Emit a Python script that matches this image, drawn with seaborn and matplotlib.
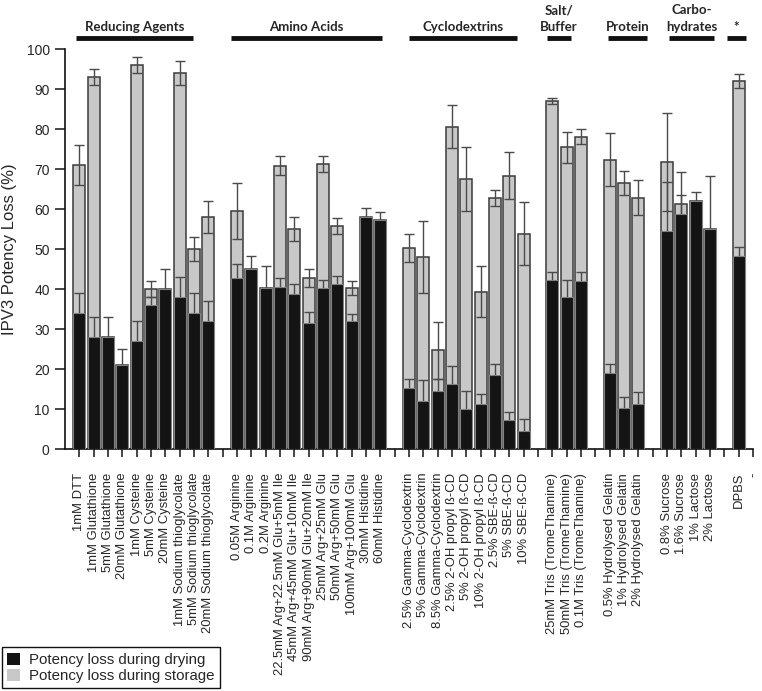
import numpy as np
import pandas as pd
import matplotlib
matplotlib.use('Agg')
import matplotlib.pyplot as plt
import seaborn as sns
from matplotlib.patches import Patch

sns.set_style('ticks')
plt.rcParams['font.family'] = ['Liberation Sans', 'DejaVu Sans']

# groups of formulations, in plotting order
group_names = ['Reducing Agents', 'Amino Acids', 'Cyclodextrins', 'Salt/\nBuffer',
               'Protein', 'Carbo-\nhydrates', '*']
group_sizes = [10, 11, 9, 3, 3, 4, 1]

labels = [
    '1mM DTT', '1mM Glutathione', '5mM Glutathione', '20mM Glutathione',
    '1mM Cysteine', '5mM Cysteine', '20mM Cysteine', '1mM Sodium thioglycolate',
    '5mM Sodium thioglycolate', '20mM Sodium thioglycolate',
    '0.05M Arginine', '0.1M Arginine', '0.2M Arginine',
    '22.5mM Arg+22.5mM Glu+5mM Ile', '45mM Arg+45mM Glu+10mM Ile',
    '90mM Arg+90mM Glu+20mM Ile', '25mM Arg+25mM Glu', '50mM Arg+50mM Glu',
    '100mM Arg+100mM Glu', '30mM Histidine', '60mM Histidine',
    '2.5% Gamma-Cyclodextrin', '5% Gamma-Cyclodextrin', '8.5% Gamma-Cyclodextrin',
    '2.5% 2-OH propyl ß-CD', '5% 2-OH propyl ß-CD', '10% 2-OH propyl ß-CD',
    '2.5% SBE-ß-CD', '5% SBE-ß-CD', '10% SBE-ß-CD',
    '25mM Tris (TromeThamine)', '50mM Tris (TromeThamine)', '0.1M Tris (TromeThamine)',
    '0.5% Hydrolysed Gelatin', '1% Hydrolysed Gelatin', '2% Hydrolysed Gelatin',
    '0.8% Sucrose', '1.6% Sucrose', '1% Lactose', '2% Lactose',
    'DPBS',
]

# potency loss during drying (%)
drying = [34, 28, 28, 21, 27, 36, 40, 38, 34, 32,
          42.7, 45, 40.4, 40.6, 38.8, 31.6, 40.3, 41.2, 32, 58.1, 57.2,
          15.2, 12, 14.6, 16.4, 10, 11.2, 18.5, 7.4, 4.5,
          42.2, 38, 42,
          19.1, 10.2, 11.2,
          54.6, 58.8, 62, 55.1,
          48.2]
drying_err = [5, 5, 5, 4, 5, 2, 5, 5, 5, 5,
              3.5, 3.4, 5.3, 2.1, 2.5, 2.7, 1.9, 2.2, 1.9, 2.2, 2,
              2.3, 5.2, 2.9, 4.5, 4.6, 2.7, 2.7, 1.9, 3,
              2, 4.2, 2.3,
              2.2, 2.9, 3.1,
              12.2, 4.6, 2.2, 13.1,
              2.4]

# additional potency loss during storage (%)
storage = [37, 65, 0, 0, 69, 4, 0, 56, 16, 26,
           16.8, 0, 0, 30.2, 16.2, 11.2, 30.9, 14.5, 8.3, 0, 0,
           35.1, 36, 10.1, 64.2, 57.6, 28.2, 44.2, 60.9, 49.4,
           44.8, 37.4, 36.1,
           53.2, 56.4, 51.6,
           17.2, 2.4, 0, 0,
           43.8]
storage_err = [5, 2, 0, 0, 2, 2, 0, 3, 3, 4,
               7, 0, 0, 2.4, 2.9, 2.3, 2, 2, 1.8, 0, 0,
               3.6, 9, 7.1, 5.3, 8, 6.4, 2, 5.9, 7.9,
               0.8, 3.9, 1.8,
               6.6, 3.0, 4.4,
               12.3, 8, 0, 0,
               1.8]

df = pd.DataFrame({'label': labels, 'drying': drying, 'drying_err': drying_err,
                   'storage': storage, 'storage_err': storage_err})
df['total'] = df['drying'] + df['storage']

# category order with an empty slot between groups and a trailing '-' slot
order = []
tick_text = []
i = 0
for g, n in enumerate(group_sizes):
    order += labels[i:i + n]
    tick_text += labels[i:i + n]
    i += n
    order.append(f'gap{g}')
    tick_text.append('')
order[-1] = '-'
tick_text[-1] = '-'
df['pos'] = [order.index(l) for l in df['label']]

fig = plt.figure(figsize=(7.62, 6.91), dpi=100)
ax = fig.add_axes([0.0853, 0.350, 0.903, 0.579])

sns.barplot(data=df, x='label', y='total', order=order, color='#c8c8c8',
            saturation=1, width=0.83, edgecolor='#3a3a3a', linewidth=1.1,
            errorbar=None, ax=ax, zorder=1)

st = df[df['storage'] > 0]
ax.errorbar(st['pos'], st['total'], yerr=st['storage_err'], fmt='none',
            ecolor='#4a4a4a', elinewidth=1, capsize=3.5, capthick=1, zorder=2)
ax.errorbar(df['pos'], df['drying'], yerr=df['drying_err'], fmt='none',
            ecolor='#4a4a4a', elinewidth=1, capsize=3.5, capthick=1, zorder=2)

sns.barplot(data=df, x='label', y='drying', order=order, color='#141414',
            saturation=1, width=0.83, edgecolor='#808080', linewidth=0.8,
            errorbar=None, ax=ax, zorder=3)

ax.set_xlim(-1, len(order) - 1)
ax.set_ylim(0, 100)
ax.set_yticks(np.arange(0, 101, 10))
ax.set_xticks(range(len(order)))
ax.set_xticklabels(tick_text, rotation=90, fontsize=9.4)
ax.tick_params(axis='y', labelsize=10, length=7, width=1.2, direction='out', pad=4)
ax.tick_params(axis='x', length=6, width=1.2, direction='out', pad=11)
ax.set_xlabel('')
ax.set_ylabel('IPV3 Potency Loss (%)', fontsize=12, labelpad=7)
sns.despine(ax=ax)
for s in ['left', 'bottom']:
    ax.spines[s].set_linewidth(1.2)
    ax.spines[s].set_color('#111111')

# group headers above the plot
group_spans = [(-0.2, 7.9), (10.6, 21.1), (23.0, 30.5), (32.6, 34.3),
               (36.9, 39.6), (41.1, 44.3), (45.2, 46.5)]
for name, (a, b) in zip(group_names, group_spans):
    ax.plot([a, b], [102.8, 102.8], color='#111111', lw=3.5,
            solid_capstyle='butt', clip_on=False)
    ax.text((a + b) / 2, 104.0, name, ha='center', va='bottom', fontsize=9.5,
            fontweight='bold', family=['Lato', 'DejaVu Sans'], linespacing=1.5)

handles = [Patch(facecolor='#141414', edgecolor='none'),
           Patch(facecolor='#c8c8c8', edgecolor='none')]
leg = fig.legend(handles, ['Potency loss during drying', 'Potency loss during storage'],
                 loc='lower left', bbox_to_anchor=(0.002, 0.004), fontsize=10.8,
                 handlelength=0.9, handleheight=0.9, handletextpad=0.6,
                 labelspacing=0.1, borderpad=0.35, borderaxespad=0,
                 fancybox=False, framealpha=1)
leg.get_frame().set_edgecolor('#111111')
leg.get_frame().set_linewidth(1)

fig.savefig('out.png', dpi=100)
